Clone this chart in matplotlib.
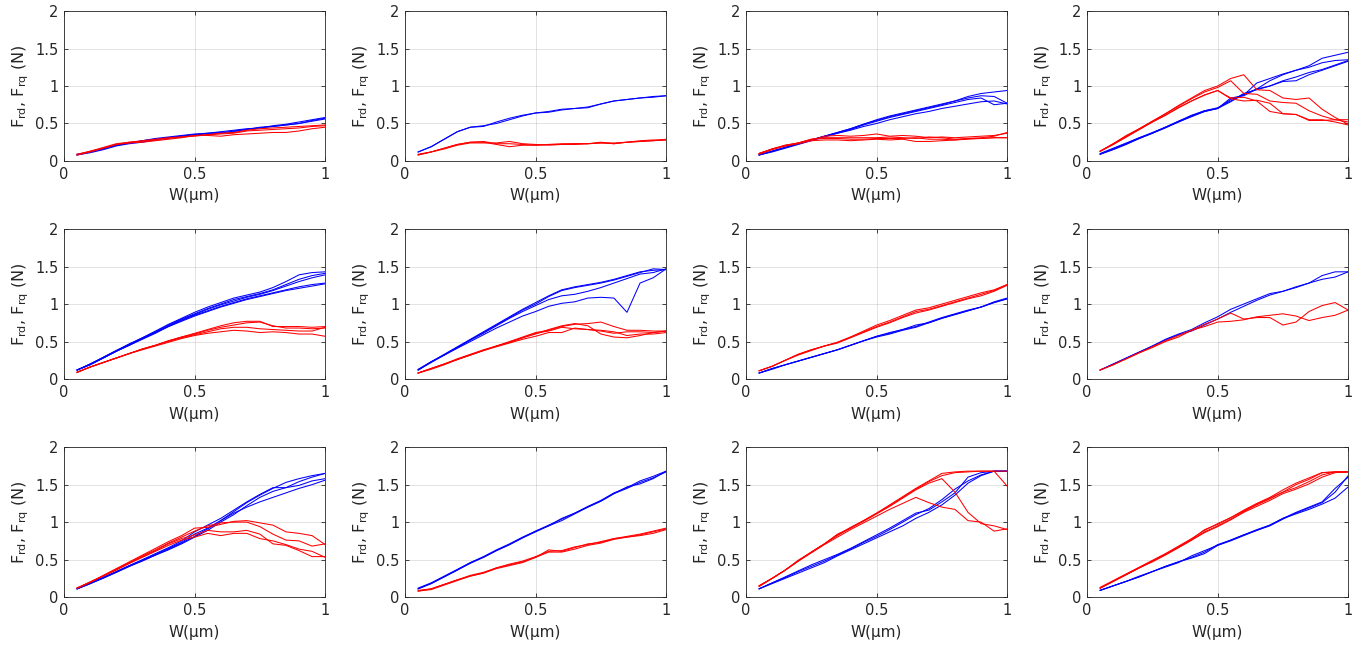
import matplotlib
matplotlib.use('Agg')
import matplotlib.pyplot as plt

# displacement grid (um)
W = [0.05, 0.10, 0.15, 0.20, 0.25, 0.30, 0.35, 0.40, 0.45, 0.50,
     0.55, 0.60, 0.65, 0.70, 0.75, 0.80, 0.85, 0.90, 0.95, 1.00]

# ---- row 1 ----
p1_blue = [
    [0.08, 0.12, 0.16, 0.21, 0.24, 0.27, 0.29, 0.31, 0.33, 0.35, 0.37, 0.39, 0.41, 0.43, 0.44, 0.46, 0.48, 0.50, 0.54, 0.57],
    [0.08, 0.11, 0.15, 0.20, 0.23, 0.25, 0.28, 0.31, 0.33, 0.35, 0.36, 0.37, 0.40, 0.42, 0.44, 0.47, 0.49, 0.52, 0.55, 0.58],
    [0.09, 0.12, 0.17, 0.21, 0.24, 0.27, 0.30, 0.32, 0.34, 0.36, 0.37, 0.38, 0.39, 0.42, 0.45, 0.46, 0.48, 0.50, 0.53, 0.56],
]
p1_red = [
    [0.08, 0.13, 0.17, 0.22, 0.25, 0.27, 0.29, 0.31, 0.32, 0.34, 0.34, 0.33, 0.35, 0.36, 0.37, 0.38, 0.38, 0.40, 0.43, 0.45],
    [0.09, 0.13, 0.18, 0.23, 0.25, 0.26, 0.28, 0.30, 0.32, 0.33, 0.35, 0.36, 0.37, 0.40, 0.41, 0.42, 0.43, 0.44, 0.46, 0.47],
    [0.08, 0.12, 0.17, 0.22, 0.24, 0.25, 0.27, 0.29, 0.31, 0.34, 0.35, 0.37, 0.38, 0.41, 0.43, 0.44, 0.45, 0.46, 0.47, 0.48],
]

p2_blue = [
    [0.12, 0.19, 0.29, 0.39, 0.45, 0.46, 0.52, 0.57, 0.61, 0.64, 0.66, 0.69, 0.70, 0.72, 0.76, 0.80, 0.82, 0.84, 0.86, 0.87],
    [0.12, 0.19, 0.29, 0.39, 0.45, 0.47, 0.50, 0.55, 0.60, 0.64, 0.65, 0.68, 0.70, 0.71, 0.76, 0.80, 0.82, 0.84, 0.85, 0.87],
]
p2_red = [
    [0.08, 0.12, 0.17, 0.22, 0.25, 0.25, 0.22, 0.19, 0.21, 0.21, 0.22, 0.22, 0.23, 0.23, 0.24, 0.23, 0.25, 0.26, 0.27, 0.28],
    [0.08, 0.12, 0.16, 0.21, 0.24, 0.24, 0.24, 0.26, 0.23, 0.22, 0.21, 0.22, 0.22, 0.23, 0.25, 0.23, 0.25, 0.27, 0.28, 0.28],
    [0.09, 0.12, 0.17, 0.22, 0.25, 0.26, 0.23, 0.23, 0.22, 0.21, 0.22, 0.23, 0.23, 0.23, 0.24, 0.24, 0.25, 0.26, 0.27, 0.29],
]

p3_blue = [
    [0.08, 0.13, 0.18, 0.23, 0.28, 0.33, 0.38, 0.43, 0.49, 0.55, 0.60, 0.64, 0.68, 0.72, 0.76, 0.80, 0.86, 0.90, 0.92, 0.94],
    [0.08, 0.13, 0.18, 0.23, 0.28, 0.33, 0.38, 0.43, 0.49, 0.54, 0.59, 0.63, 0.67, 0.71, 0.75, 0.80, 0.84, 0.87, 0.86, 0.77],
    [0.08, 0.13, 0.18, 0.23, 0.28, 0.33, 0.37, 0.42, 0.48, 0.53, 0.58, 0.62, 0.66, 0.70, 0.74, 0.78, 0.82, 0.84, 0.75, 0.77],
    [0.08, 0.12, 0.17, 0.22, 0.27, 0.32, 0.37, 0.41, 0.46, 0.50, 0.55, 0.59, 0.63, 0.66, 0.70, 0.73, 0.76, 0.79, 0.80, 0.76],
]
p3_red = [
    [0.10, 0.16, 0.21, 0.24, 0.28, 0.33, 0.34, 0.33, 0.34, 0.36, 0.33, 0.34, 0.33, 0.31, 0.32, 0.31, 0.32, 0.33, 0.34, 0.37],
    [0.10, 0.16, 0.21, 0.24, 0.29, 0.31, 0.31, 0.31, 0.31, 0.31, 0.32, 0.31, 0.30, 0.32, 0.31, 0.29, 0.30, 0.31, 0.33, 0.38],
    [0.09, 0.15, 0.20, 0.23, 0.27, 0.28, 0.28, 0.27, 0.28, 0.29, 0.28, 0.29, 0.26, 0.26, 0.27, 0.28, 0.29, 0.30, 0.31, 0.31],
    [0.10, 0.16, 0.20, 0.24, 0.29, 0.30, 0.30, 0.29, 0.29, 0.30, 0.30, 0.30, 0.31, 0.29, 0.29, 0.28, 0.30, 0.30, 0.31, 0.31],
]

p4_blue = [
    [0.09, 0.15, 0.22, 0.30, 0.37, 0.44, 0.52, 0.59, 0.66, 0.70, 0.82, 0.88, 1.04, 1.10, 1.16, 1.21, 1.27, 1.37, 1.41, 1.45],
    [0.09, 0.16, 0.23, 0.31, 0.37, 0.45, 0.53, 0.60, 0.67, 0.70, 0.84, 0.87, 0.96, 1.07, 1.15, 1.21, 1.25, 1.31, 1.34, 1.35],
    [0.10, 0.17, 0.24, 0.31, 0.38, 0.45, 0.53, 0.61, 0.67, 0.71, 0.80, 0.90, 0.95, 1.00, 1.07, 1.12, 1.18, 1.22, 1.28, 1.34],
    [0.09, 0.16, 0.23, 0.30, 0.37, 0.45, 0.52, 0.60, 0.66, 0.70, 0.79, 0.89, 0.96, 1.00, 1.06, 1.07, 1.15, 1.21, 1.27, 1.33],
]
p4_red = [
    [0.13, 0.23, 0.34, 0.43, 0.53, 0.63, 0.74, 0.84, 0.94, 1.00, 1.10, 1.15, 0.95, 0.94, 0.84, 0.82, 0.84, 0.69, 0.58, 0.49],
    [0.13, 0.23, 0.33, 0.43, 0.53, 0.63, 0.73, 0.83, 0.92, 0.98, 1.07, 0.90, 0.89, 0.80, 0.78, 0.77, 0.67, 0.60, 0.55, 0.52],
    [0.13, 0.22, 0.32, 0.42, 0.52, 0.61, 0.71, 0.80, 0.88, 0.94, 0.83, 0.80, 0.81, 0.77, 0.63, 0.62, 0.54, 0.54, 0.55, 0.55],
    [0.13, 0.22, 0.32, 0.42, 0.52, 0.61, 0.71, 0.80, 0.88, 0.94, 0.84, 0.85, 0.80, 0.66, 0.63, 0.62, 0.55, 0.55, 0.52, 0.48],
]

# ---- row 2 ----
p5_blue = [
    [0.12, 0.20, 0.29, 0.38, 0.47, 0.55, 0.64, 0.73, 0.81, 0.89, 0.96, 1.02, 1.08, 1.12, 1.16, 1.22, 1.30, 1.39, 1.42, 1.43],
    [0.12, 0.20, 0.29, 0.38, 0.46, 0.55, 0.63, 0.72, 0.80, 0.87, 0.94, 1.00, 1.06, 1.10, 1.14, 1.19, 1.26, 1.33, 1.38, 1.41],
    [0.12, 0.20, 0.28, 0.37, 0.46, 0.54, 0.62, 0.71, 0.79, 0.86, 0.93, 0.99, 1.04, 1.09, 1.13, 1.18, 1.24, 1.30, 1.35, 1.39],
    [0.12, 0.19, 0.28, 0.37, 0.45, 0.54, 0.62, 0.70, 0.78, 0.85, 0.91, 0.97, 1.02, 1.07, 1.11, 1.15, 1.19, 1.23, 1.26, 1.28],
    [0.12, 0.19, 0.28, 0.37, 0.45, 0.53, 0.61, 0.70, 0.77, 0.84, 0.90, 0.96, 1.01, 1.06, 1.10, 1.14, 1.18, 1.21, 1.24, 1.27],
]
p5_red = [
    [0.09, 0.16, 0.22, 0.28, 0.34, 0.40, 0.45, 0.51, 0.56, 0.61, 0.66, 0.71, 0.75, 0.77, 0.77, 0.70, 0.70, 0.70, 0.69, 0.70],
    [0.09, 0.16, 0.22, 0.28, 0.34, 0.40, 0.45, 0.51, 0.56, 0.60, 0.65, 0.69, 0.72, 0.75, 0.76, 0.71, 0.68, 0.68, 0.67, 0.68],
    [0.09, 0.16, 0.22, 0.28, 0.34, 0.40, 0.45, 0.50, 0.55, 0.59, 0.63, 0.67, 0.69, 0.69, 0.67, 0.66, 0.65, 0.64, 0.64, 0.69],
    [0.09, 0.16, 0.22, 0.28, 0.34, 0.39, 0.44, 0.49, 0.54, 0.58, 0.61, 0.63, 0.65, 0.64, 0.62, 0.63, 0.62, 0.60, 0.60, 0.57],
]

p6_blue = [
    [0.12, 0.23, 0.32, 0.42, 0.52, 0.62, 0.72, 0.82, 0.92, 1.00, 1.10, 1.18, 1.22, 1.25, 1.28, 1.32, 1.37, 1.42, 1.47, 1.46],
    [0.12, 0.23, 0.32, 0.42, 0.52, 0.61, 0.71, 0.81, 0.90, 0.98, 1.06, 1.11, 1.13, 1.17, 1.22, 1.28, 1.34, 1.40, 1.42, 1.47],
    [0.12, 0.22, 0.32, 0.41, 0.50, 0.59, 0.68, 0.76, 0.84, 0.90, 0.97, 1.01, 1.03, 1.08, 1.09, 1.08, 0.89, 1.28, 1.35, 1.47],
    [0.13, 0.23, 0.33, 0.43, 0.53, 0.63, 0.73, 0.83, 0.93, 1.02, 1.11, 1.19, 1.23, 1.26, 1.29, 1.33, 1.38, 1.43, 1.45, 1.46],
]
p6_red = [
    [0.08, 0.14, 0.20, 0.27, 0.33, 0.39, 0.44, 0.50, 0.56, 0.62, 0.65, 0.70, 0.73, 0.74, 0.76, 0.70, 0.65, 0.65, 0.64, 0.64],
    [0.08, 0.14, 0.20, 0.26, 0.32, 0.38, 0.44, 0.49, 0.55, 0.60, 0.66, 0.71, 0.74, 0.71, 0.60, 0.56, 0.55, 0.58, 0.62, 0.64],
    [0.08, 0.13, 0.19, 0.26, 0.32, 0.38, 0.43, 0.48, 0.53, 0.57, 0.62, 0.62, 0.68, 0.66, 0.65, 0.63, 0.58, 0.60, 0.60, 0.62],
    [0.08, 0.14, 0.20, 0.26, 0.32, 0.38, 0.44, 0.49, 0.55, 0.61, 0.64, 0.69, 0.67, 0.66, 0.64, 0.61, 0.63, 0.63, 0.62, 0.64],
]

p7_blue = [
    [0.08, 0.14, 0.19, 0.24, 0.29, 0.34, 0.39, 0.45, 0.51, 0.57, 0.61, 0.66, 0.72, 0.75, 0.81, 0.86, 0.91, 0.96, 1.02, 1.07],
    [0.08, 0.13, 0.19, 0.24, 0.29, 0.34, 0.39, 0.45, 0.51, 0.56, 0.60, 0.65, 0.69, 0.75, 0.81, 0.86, 0.91, 0.96, 1.03, 1.08],
    [0.08, 0.14, 0.19, 0.24, 0.29, 0.34, 0.39, 0.45, 0.51, 0.57, 0.62, 0.66, 0.70, 0.76, 0.82, 0.87, 0.92, 0.96, 1.02, 1.07],
]
p7_red = [
    [0.11, 0.17, 0.25, 0.33, 0.39, 0.44, 0.49, 0.56, 0.64, 0.72, 0.78, 0.85, 0.92, 0.95, 1.00, 1.05, 1.10, 1.15, 1.19, 1.26],
    [0.11, 0.17, 0.25, 0.33, 0.39, 0.44, 0.49, 0.56, 0.63, 0.70, 0.76, 0.83, 0.90, 0.93, 0.98, 1.03, 1.08, 1.13, 1.18, 1.26],
    [0.11, 0.17, 0.25, 0.32, 0.38, 0.44, 0.48, 0.55, 0.62, 0.69, 0.75, 0.82, 0.88, 0.92, 0.97, 1.02, 1.07, 1.11, 1.17, 1.25],
]

p8_blue = [
    [0.12, 0.20, 0.28, 0.36, 0.44, 0.53, 0.60, 0.66, 0.75, 0.83, 0.93, 1.00, 1.07, 1.14, 1.17, 1.22, 1.28, 1.38, 1.43, 1.43],
    [0.12, 0.20, 0.28, 0.36, 0.44, 0.52, 0.59, 0.64, 0.72, 0.80, 0.89, 0.97, 1.05, 1.12, 1.17, 1.23, 1.28, 1.33, 1.36, 1.43],
]
p8_red = [
    [0.12, 0.19, 0.27, 0.35, 0.42, 0.50, 0.56, 0.65, 0.70, 0.76, 0.77, 0.79, 0.83, 0.85, 0.87, 0.84, 0.78, 0.82, 0.85, 0.92],
    [0.12, 0.19, 0.27, 0.35, 0.43, 0.51, 0.58, 0.65, 0.73, 0.80, 0.88, 0.80, 0.82, 0.82, 0.72, 0.76, 0.90, 0.98, 1.02, 0.92],
]

# ---- row 3 ----
p9_blue = [
    [0.11, 0.18, 0.26, 0.34, 0.42, 0.49, 0.56, 0.64, 0.72, 0.81, 0.91, 1.02, 1.14, 1.26, 1.36, 1.45, 1.53, 1.58, 1.62, 1.65],
    [0.11, 0.18, 0.25, 0.33, 0.41, 0.48, 0.56, 0.63, 0.71, 0.80, 0.89, 1.00, 1.10, 1.22, 1.33, 1.41, 1.46, 1.49, 1.55, 1.58],
    [0.11, 0.19, 0.26, 0.34, 0.42, 0.50, 0.58, 0.66, 0.75, 0.87, 0.96, 1.05, 1.16, 1.27, 1.37, 1.46, 1.46, 1.54, 1.60, 1.65],
    [0.11, 0.18, 0.26, 0.33, 0.41, 0.49, 0.57, 0.65, 0.73, 0.84, 0.92, 1.02, 1.12, 1.20, 1.27, 1.33, 1.39, 1.45, 1.50, 1.56],
]
p9_red = [
    [0.12, 0.20, 0.29, 0.38, 0.47, 0.56, 0.65, 0.74, 0.82, 0.92, 0.93, 0.97, 1.01, 1.02, 0.99, 0.96, 0.87, 0.85, 0.82, 0.70],
    [0.12, 0.20, 0.28, 0.37, 0.46, 0.55, 0.63, 0.72, 0.80, 0.88, 0.95, 0.99, 1.00, 1.00, 0.94, 0.84, 0.76, 0.75, 0.68, 0.71],
    [0.12, 0.20, 0.28, 0.37, 0.45, 0.54, 0.62, 0.71, 0.78, 0.83, 0.89, 0.87, 0.87, 0.89, 0.84, 0.71, 0.69, 0.62, 0.54, 0.54],
    [0.12, 0.20, 0.28, 0.36, 0.45, 0.53, 0.61, 0.69, 0.76, 0.80, 0.85, 0.82, 0.85, 0.85, 0.78, 0.75, 0.70, 0.64, 0.61, 0.53],
]

p10_blue = [
    [0.11, 0.18, 0.27, 0.36, 0.45, 0.53, 0.62, 0.70, 0.79, 0.87, 0.95, 1.05, 1.12, 1.20, 1.28, 1.38, 1.45, 1.53, 1.59, 1.67],
    [0.11, 0.18, 0.27, 0.36, 0.46, 0.53, 0.62, 0.70, 0.79, 0.88, 0.95, 1.02, 1.11, 1.20, 1.28, 1.38, 1.47, 1.51, 1.58, 1.68],
    [0.12, 0.19, 0.28, 0.37, 0.46, 0.54, 0.63, 0.71, 0.80, 0.88, 0.96, 1.04, 1.12, 1.21, 1.29, 1.39, 1.46, 1.55, 1.61, 1.68],
]
p10_red = [
    [0.08, 0.11, 0.17, 0.23, 0.28, 0.32, 0.39, 0.43, 0.47, 0.53, 0.63, 0.61, 0.66, 0.71, 0.73, 0.78, 0.80, 0.83, 0.87, 0.91],
    [0.08, 0.10, 0.16, 0.22, 0.28, 0.32, 0.38, 0.42, 0.46, 0.53, 0.60, 0.60, 0.64, 0.69, 0.72, 0.77, 0.80, 0.82, 0.85, 0.90],
    [0.09, 0.11, 0.17, 0.23, 0.29, 0.33, 0.39, 0.44, 0.48, 0.54, 0.61, 0.62, 0.67, 0.70, 0.74, 0.78, 0.81, 0.84, 0.88, 0.92],
]

p11_blue = [
    [0.11, 0.18, 0.25, 0.32, 0.39, 0.46, 0.55, 0.63, 0.71, 0.79, 0.87, 0.95, 1.05, 1.13, 1.23, 1.36, 1.52, 1.62, 1.68, 1.68],
    [0.11, 0.19, 0.26, 0.34, 0.41, 0.48, 0.56, 0.64, 0.73, 0.81, 0.90, 1.00, 1.10, 1.18, 1.30, 1.44, 1.55, 1.63, 1.68, 1.68],
    [0.11, 0.19, 0.27, 0.35, 0.43, 0.50, 0.57, 0.65, 0.74, 0.83, 0.92, 1.02, 1.12, 1.16, 1.27, 1.39, 1.60, 1.66, 1.68, 1.68],
]
p11_red = [
    [0.15, 0.25, 0.36, 0.49, 0.60, 0.71, 0.83, 0.93, 1.02, 1.12, 1.23, 1.34, 1.45, 1.55, 1.65, 1.67, 1.68, 1.68, 1.68, 1.68],
    [0.15, 0.25, 0.36, 0.48, 0.60, 0.71, 0.82, 0.92, 1.01, 1.11, 1.21, 1.32, 1.43, 1.52, 1.58, 1.40, 1.13, 0.98, 0.95, 0.90],
    [0.14, 0.25, 0.36, 0.48, 0.59, 0.70, 0.80, 0.90, 0.99, 1.08, 1.17, 1.25, 1.33, 1.26, 1.20, 1.17, 1.02, 1.00, 0.88, 0.91],
    [0.15, 0.25, 0.36, 0.49, 0.60, 0.71, 0.84, 0.92, 1.02, 1.12, 1.22, 1.33, 1.44, 1.54, 1.62, 1.66, 1.67, 1.68, 1.68, 1.48],
]

p12_blue = [
    [0.09, 0.15, 0.21, 0.27, 0.34, 0.41, 0.47, 0.52, 0.58, 0.69, 0.75, 0.82, 0.89, 0.95, 1.04, 1.12, 1.19, 1.26, 1.40, 1.62],
    [0.09, 0.15, 0.21, 0.27, 0.34, 0.40, 0.46, 0.55, 0.62, 0.69, 0.76, 0.83, 0.89, 0.96, 1.05, 1.11, 1.17, 1.24, 1.32, 1.47],
    [0.09, 0.15, 0.21, 0.28, 0.34, 0.41, 0.47, 0.53, 0.60, 0.70, 0.76, 0.83, 0.90, 0.96, 1.05, 1.13, 1.20, 1.27, 1.45, 1.60],
]
p12_red = [
    [0.12, 0.21, 0.30, 0.39, 0.48, 0.57, 0.67, 0.77, 0.90, 0.97, 1.06, 1.15, 1.24, 1.32, 1.40, 1.50, 1.57, 1.66, 1.67, 1.67],
    [0.12, 0.21, 0.30, 0.39, 0.48, 0.57, 0.66, 0.76, 0.87, 0.95, 1.04, 1.14, 1.23, 1.31, 1.40, 1.46, 1.54, 1.63, 1.67, 1.67],
    [0.12, 0.21, 0.30, 0.39, 0.47, 0.56, 0.66, 0.76, 0.86, 0.94, 1.03, 1.13, 1.21, 1.29, 1.38, 1.44, 1.51, 1.60, 1.66, 1.67],
    [0.13, 0.22, 0.31, 0.40, 0.49, 0.58, 0.68, 0.78, 0.89, 0.98, 1.06, 1.16, 1.25, 1.33, 1.43, 1.52, 1.59, 1.66, 1.67, 1.67],
]

panels = [
    (p1_blue, p1_red), (p2_blue, p2_red), (p3_blue, p3_red), (p4_blue, p4_red),
    (p5_blue, p5_red), (p6_blue, p6_red), (p7_blue, p7_red), (p8_blue, p8_red),
    (p9_blue, p9_red), (p10_blue, p10_red), (p11_blue, p11_red), (p12_blue, p12_red),
]

x_ticks = [0, 0.5, 1]
y_ticks = [0, 0.5, 1, 1.5, 2]
x_ticklabels = ['0', '0.5', '1']
y_ticklabels = ['0', '0.5', '1', '1.5', '2']

text_gray = '#262626'
plt.rcParams['font.family'] = ['DejaVu Sans']
plt.rcParams['mathtext.fontset'] = 'dejavusans'

fig = plt.figure(figsize=(13.69, 6.49), dpi=100)

ax_w, ax_h = 0.1907, 0.231
left0, col_step = 0.0468, 0.2491
top0, row_step = 0.983, 0.336

for i, (blues, reds) in enumerate(panels):
    r, c = divmod(i, 4)
    ax = fig.add_axes([left0 + c * col_step, top0 - ax_h - r * row_step, ax_w, ax_h])
    for line in blues:
        ax.plot(W, line, color=(0, 0, 1), lw=0.75)
    for line in reds:
        ax.plot(W, line, color=(1, 0, 0), lw=0.75)
    ax.set_xlim(0, 1)
    ax.set_ylim(0, 2)
    ax.set_xticks(x_ticks)
    ax.set_xticklabels(x_ticklabels)
    ax.set_yticks(y_ticks)
    ax.set_yticklabels(y_ticklabels)
    ax.grid(True, color='#262626', alpha=0.15, lw=0.6)
    ax.tick_params(direction='in', length=3, width=0.6, colors=text_gray,
                   labelsize=10.5, top=True, right=True, pad=4)
    for s in ax.spines.values():
        s.set_color(text_gray)
        s.set_linewidth(0.6)
    ax.set_xlabel(u'W(\u03bcm)', fontsize=11, color=text_gray, labelpad=5)
    ax.set_ylabel(r'F$_{\mathrm{rd}}$, F$_{\mathrm{rq}}$ (N)', fontsize=11.5,
                  color=text_gray, labelpad=3)

fig.savefig('out.png', dpi=100)
